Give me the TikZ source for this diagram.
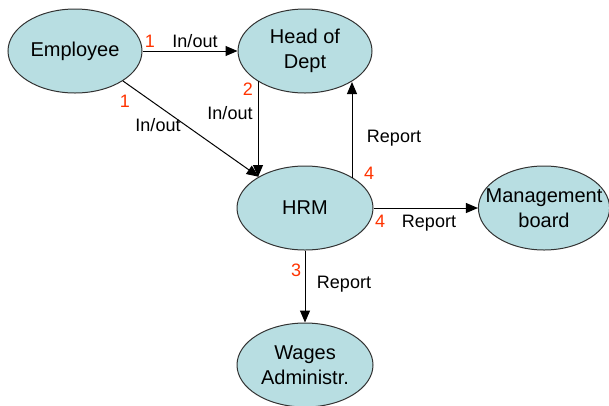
\documentclass[tikz,border=0pt]{standalone}
\usepackage{fontspec}
\setmainfont{Liberation Sans}
\usetikzlibrary{arrows.meta,shapes.geometric}
\definecolor{entityfill}{RGB}{184,222,226}
\definecolor{entityline}{RGB}{50,50,50}
\definecolor{stepred}{RGB}{255,51,0}
\begin{document}
\begin{tikzpicture}[x=1pt,y=-1pt,
  entity/.style={ellipse,draw=entityline,line width=1pt,fill=entityfill,
    minimum width=134pt,minimum height=84pt,inner sep=0pt,inner xsep=-12pt,
    align=center,font=\fontsize{20}{25}\selectfont},
  flow/.style={draw=black,line width=1pt,-{Triangle[length=12pt,width=10pt]}},
  lbl/.style={anchor=base,inner sep=0pt,font=\fontsize{18}{22}\selectfont},
  num/.style={lbl,text=stepred}]
\useasboundingbox (0,0) rectangle (609,405);

% entities
\node[entity] (emp)  at (75,51)  {Employee};
\node[entity] (head) at (305,51) {Head of\\Dept};
\node[entity,minimum width=136pt] (hrm) at (305,208) {HRM};
\node[entity,minimum width=128pt] (mgmt) at (544,208) {Management\\board};
\node[entity,minimum width=136pt] (wages) at (305,365) {Wages\\Administr.};

% flows
\draw[flow] (emp.east) -- (head.west);
\draw[flow] (emp.-32) -- (hrm.146);
\draw[flow] ([xshift=-47pt,yshift=-30pt]head.center) -- ([xshift=-47pt,yshift=31pt]hrm.center);
\draw[flow] ([xshift=47pt,yshift=30pt]hrm.center) -- ([xshift=47pt,yshift=-31pt]head.center);
\draw[flow] (hrm.east) -- (mgmt.west);
\draw[flow] (hrm.south) -- (wages.north);

% flow labels
\node[num] (n1a) at (150,47) {1};
\node[lbl] (l1a) at (195,47) {In/out};
\node[num] (n1b) at (125,107) {1};
\node[lbl] (l1b) at (158,131) {In/out};
\node[num] (n2)  at (248,95) {2};
\node[lbl] (l2)  at (230,119) {In/out};
\node[num] (n4a) at (369,179) {4};
\node[lbl] (l4a) at (394,142) {Report};
\node[num] (n4b) at (380,227) {4};
\node[lbl] (l4b) at (429,227) {Report};
\node[num] (n3)  at (296,276) {3};
\node[lbl] (l3)  at (344,288) {Report};
\end{tikzpicture}
\end{document}
